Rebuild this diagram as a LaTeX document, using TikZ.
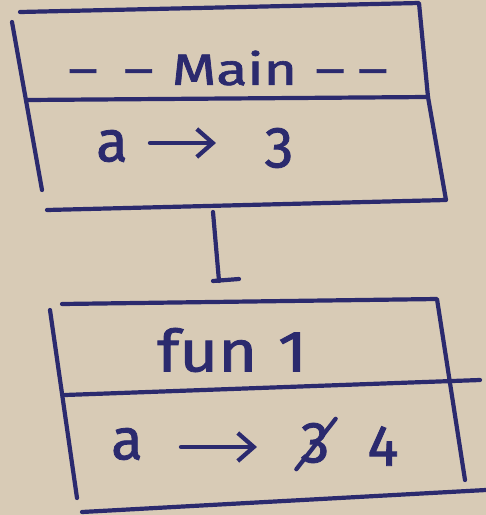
\documentclass[tikz,border=0pt]{standalone}
\usepackage{fontspec}
\newfontfamily\inkfont{Fira Sans}[FakeBold=1.4]
\usetikzlibrary{arrows.meta,calc}
\definecolor{ink}{HTML}{2B2A6E}
\definecolor{paper}{HTML}{D8CBB6}
\tikzset{
  ink line/.style={draw=ink,line width=4.2pt,line cap=round,line join=round},
  hdr/.style={text=ink,inner sep=0pt,font=\fontsize{44}{48}\inkfont},
  val/.style={text=ink,inner sep=0pt,font=\fontsize{58}{62}\inkfont},
  small arrow/.style={ink line,-{Straight Barb[length=16pt,width=28pt]}},
}
\begin{document}
\begin{tikzpicture}[x=1pt,y=-1pt]
\fill[paper] (0,0) rectangle (486,515);
\useasboundingbox (0,0) rectangle (486,515);
% ---- main frame
\coordinate (m-tl) at (20,12);
\coordinate (m-tr) at (419,3);
\coordinate (m-sr) at (428,97);
\coordinate (m-br) at (446,200);
\coordinate (m-bl) at (47,210);
\coordinate (m-lt) at (12,22);
\coordinate (m-lb) at (42,190);
\coordinate (m-sl) at (27,100);
\draw[ink line] (m-tl) -- (m-tr) -- (m-sr) -- (m-br) -- (m-bl);
\draw[ink line] (m-lt) -- (m-lb);
\draw[ink line] (m-sl) -- (m-sr);
\node[hdr] (mainhdr) at (228,68) {\scalebox{1.3}[1]{–\hspace{20pt}–\hspace{14pt}Main\hspace{14pt}–\hspace{10pt}–}};
\node[val] (ma) at (112,146) {a};
\node[val] (m3) at (279,148) {3};
\draw[small arrow] (ma.east) ++(22pt,3pt) coordinate (ma-s) -- ++(66pt,0pt) coordinate (ma-e);
% ---- call arrow
\coordinate (call-s) at (213,212);
\coordinate (call-e) at (219,281);
\draw[ink line] (call-s) -- (call-e);
\draw[ink line] ($(call-e)+(-6pt,0pt)$) -- ($(call-e)+(20pt,2pt)$);
% ---- fun 1 frame
\coordinate (f-tl) at (62,304);
\coordinate (f-tr) at (437,299);
\coordinate (f-br) at (465,480);
\coordinate (f-lt) at (50,310);
\coordinate (f-lb) at (77,498);
\coordinate (f-sl) at (65,395);
\coordinate (f-sr) at (480,380);
\coordinate (f-bl) at (82,512);
\coordinate (f-be) at (486,490);
\draw[ink line] (f-tl) -- (f-tr) -- (f-br);
\draw[ink line] (f-lt) -- (f-lb);
\draw[ink line] (f-sl) -- (f-sr);
\draw[ink line] (f-bl) -- (f-be);
\node[val] (funhdr) at (232,350) {\scalebox{1.15}[1]{fun\hspace{18pt}1}};
\node[val] (fa) at (127,444) {a};
\node[val] (f3) at (315,443) {3};
\node[val] (f4) at (383,446) {4};
\draw[ink line] ($(f3.north east)+(6pt,4pt)$) -- ($(f3.south west)+(-4pt,-6pt)$);
\draw[small arrow] (fa.east) ++(38pt,-3pt) -- ++(76pt,0pt);
\end{tikzpicture}
\end{document}
